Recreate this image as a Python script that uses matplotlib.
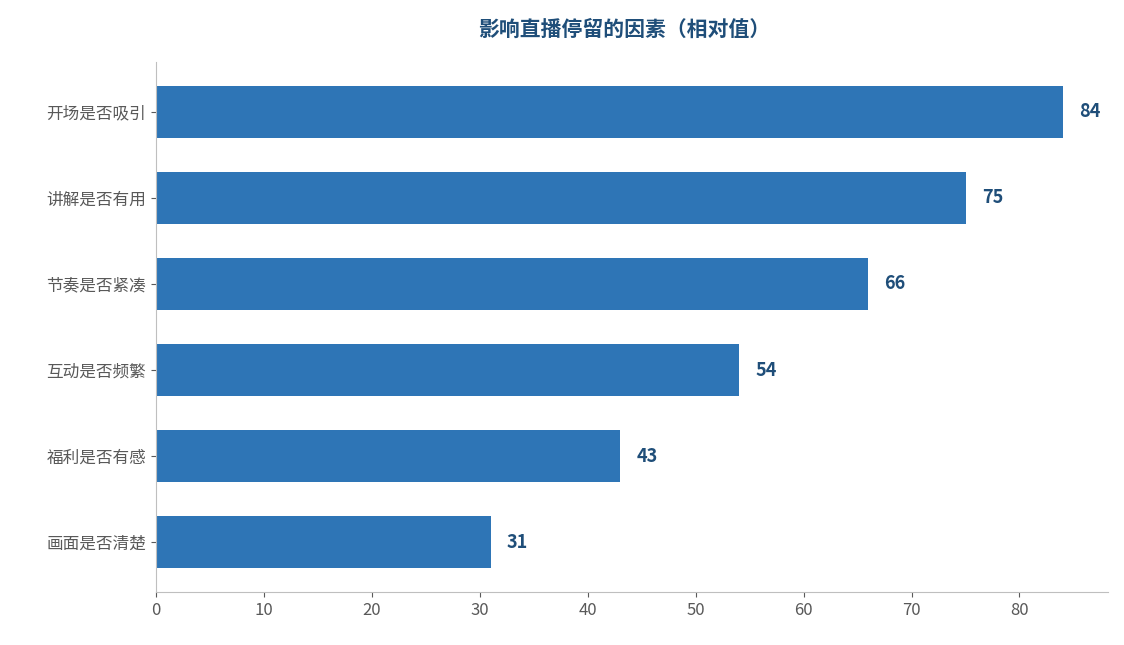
import matplotlib
matplotlib.use("Agg")
import matplotlib.pyplot as plt

plt.rcParams['font.family'] = ['Noto Sans CJK SC', 'DejaVu Sans']

categories = ["画面是否清楚", "福利是否有感", "互动是否频繁", "节奏是否紧凑", "讲解是否有用", "开场是否吸引"]
values = [31, 43, 54, 66, 75, 84]
title = "影响直播停留的因素（相对值）"

fig = plt.figure(figsize=(11.24, 6.45), dpi=100)
ax = fig.add_axes([156/1124, 1-592/645, (1108-156)/1124, (592-62)/645])
ax.barh(range(len(categories)), values, height=0.6, color="#2E75B6")
ax.set_yticks(range(len(categories)))
ax.set_yticklabels(categories, fontsize=12, color="#404040")
ax.set_xlim(0, 88.2)
ax.set_ylim(-0.58, 5.58)
ax.set_xticks(range(0, 90, 10))
ax.tick_params(axis='x', labelsize=12, colors="#595959")
ax.tick_params(axis='y', colors="#595959")
for s in ["top", "right"]:
    ax.spines[s].set_visible(False)
for s in ["left", "bottom"]:
    ax.spines[s].set_color("#BFBFBF")
for i, v in enumerate(values):
    ax.text(v + 1.5, i, str(v), va="center", ha="left", fontsize=13, fontweight="bold", color="#1F4E79")
fig.text(0.555, 0.955, title, ha="center", va="center", fontsize=15, fontweight="bold", color="#1F4E79")
fig.savefig("out.png", dpi=100)
